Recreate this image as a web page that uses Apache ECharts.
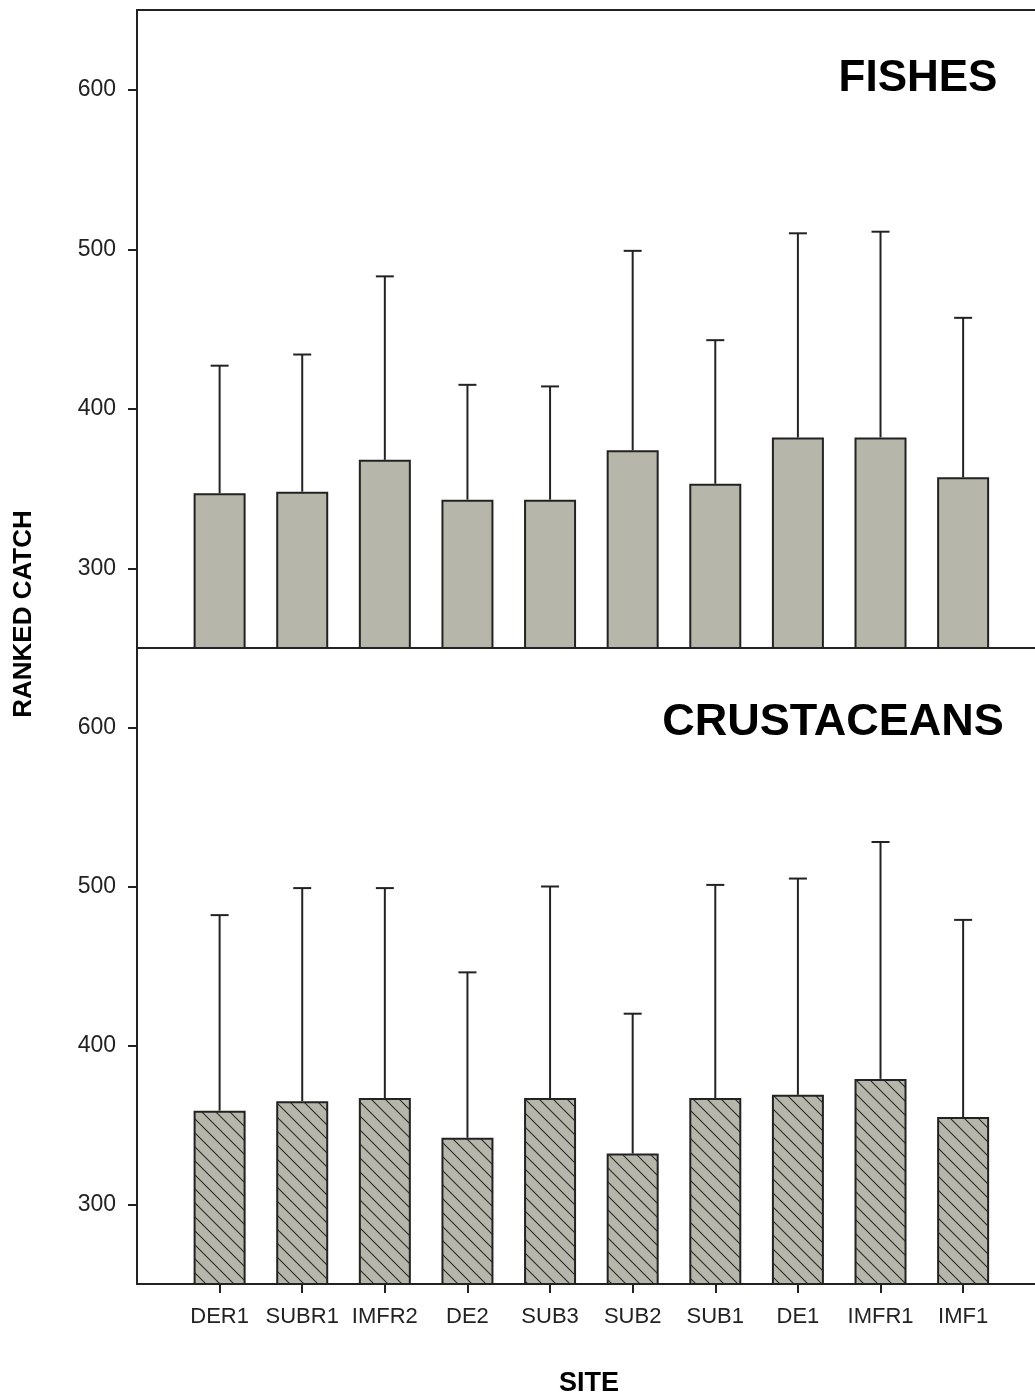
<!DOCTYPE html>
<html>
<head>
<meta charset="utf-8">
<script src="https://cdn.jsdelivr.net/npm/echarts@6/dist/echarts.min.js"></script>
<style>
html,body{margin:0;padding:0;background:#fff;}
#chart{width:1035px;height:1399px;}
</style>
</head>
<body>
<div id="chart"></div>
<script>
// ---- data ----
const sites = ['DER1', 'SUBR1', 'IMFR2', 'DE2', 'SUB3', 'SUB2', 'SUB1', 'DE1', 'IMFR1', 'IMF1'];
const fishesMean = [347, 348, 368, 343, 343, 374, 353, 382, 382, 357];
const fishesUpper = [427, 434, 483, 415, 414, 499, 443, 510, 511, 457];
const crustMean = [359, 365, 367, 342, 367, 332, 367, 369, 379, 355];
const crustUpper = [482, 499, 499, 446, 500, 420, 501, 505, 528, 479];
const yTicks = [300, 400, 500, 600];
const panelTitles = ['FISHES', 'CRUSTACEANS'];
const yTitle = 'RANKED CATCH';
const xTitle = 'SITE';

// ---- styling ----
const FONT = '"Liberation Sans", Arial, sans-serif';
const INK = '#222';
const FILL = '#b6b6aa';
const siteIdx = sites.map((_, i) => i);
const X_MIN = -1, X_MAX = 9.87; // plot is cut off at the right edge of the picture

function makeHatch() {
  const c = document.createElement('canvas');
  c.width = 14; c.height = 14;
  const g = c.getContext('2d');
  g.fillStyle = FILL;
  g.fillRect(0, 0, 14, 14);
  g.strokeStyle = '#2a2a2a';
  g.lineWidth = 1.1;
  g.beginPath();
  g.moveTo(-2, -2); g.lineTo(16, 16);
  g.moveTo(-2, 12); g.lineTo(2, 16);
  g.moveTo(12, -2); g.lineTo(16, 2);
  g.stroke();
  return c;
}
const hatch = makeHatch();

function xAxisFor(gi, showLabels, position) {
  return {
    gridIndex: gi, type: 'value', min: X_MIN, max: X_MAX, position: position || 'bottom',
    axisLine: { show: true, onZero: false, lineStyle: { color: INK, width: 2 } },
    axisTick: { show: showLabels, length: 9, customValues: siteIdx, lineStyle: { color: INK, width: 2 } },
    axisLabel: {
      show: showLabels, customValues: siteIdx, margin: 22,
      formatter: v => sites[Math.round(v)] || '',
      fontFamily: FONT, fontSize: 22, color: INK
    },
    splitLine: { show: false }
  };
}
function yAxisFor(gi) {
  return {
    gridIndex: gi, type: 'value', min: 250, max: 650,
    axisLine: { show: true, onZero: false, lineStyle: { color: INK, width: 2 } },
    axisTick: { show: true, length: 9, customValues: yTicks, lineStyle: { color: INK, width: 2 } },
    axisLabel: { show: true, customValues: yTicks, margin: 21, fontFamily: FONT, fontSize: 23, color: INK },
    splitLine: { show: false }
  };
}
function errorSeries(xi, yi, mean, upper) {
  return {
    type: 'custom', xAxisIndex: xi, yAxisIndex: yi, z: 5,
    data: sites.map((s, i) => [i, mean[i], upper[i]]),
    encode: { x: 0, y: [1, 2] },
    renderItem: function (params, api) {
      const p0 = api.coord([api.value(0), api.value(1)]);
      const p1 = api.coord([api.value(0), api.value(2)]);
      const st = { stroke: INK, lineWidth: 2 };
      return {
        type: 'group',
        children: [
          { type: 'line', shape: { x1: p0[0], y1: p0[1], x2: p1[0], y2: p1[1] }, style: st },
          { type: 'line', shape: { x1: p1[0] - 9, y1: p1[1], x2: p1[0] + 9, y2: p1[1] }, style: st }
        ]
      };
    }
  };
}

const chart = echarts.init(document.getElementById('chart'), null, { renderer: 'canvas' });
chart.setOption({
  animation: false,
  backgroundColor: '#fff',
  grid: [
    { left: 137, top: 10, right: 0, height: 638 },
    { left: 137, top: 648, right: 0, height: 636 }
  ],
  xAxis: [xAxisFor(0, false, 'bottom'), xAxisFor(1, true, 'bottom'), xAxisFor(0, false, 'top')],
  yAxis: [yAxisFor(0), yAxisFor(1)],
  series: [
    {
      type: 'bar', xAxisIndex: 0, yAxisIndex: 0, barWidth: 52,
      data: sites.map((s, i) => [i, fishesMean[i]]),
      itemStyle: { color: FILL, borderColor: INK, borderWidth: 2 }
    },
    errorSeries(0, 0, fishesMean, fishesUpper),
    {
      type: 'bar', xAxisIndex: 1, yAxisIndex: 1, barWidth: 52,
      data: sites.map((s, i) => [i, crustMean[i]]),
      itemStyle: { color: { image: hatch, repeat: 'repeat' }, borderColor: INK, borderWidth: 2 }
    },
    errorSeries(1, 1, crustMean, crustUpper)
  ],
  graphic: [
    { type: 'text', x: 918, y: 79, z: 10, style: { text: panelTitles[0], font: 'bold 44px ' + FONT, fill: '#000', align: 'center', verticalAlign: 'middle' } },
    { type: 'text', x: 833, y: 723, z: 10, style: { text: panelTitles[1], font: 'bold 45px ' + FONT, fill: '#000', align: 'center', verticalAlign: 'middle' } },
    { type: 'text', x: 24, y: 614, rotation: Math.PI / 2, z: 10, style: { text: yTitle, font: 'bold 26px ' + FONT, fill: '#000', align: 'center', verticalAlign: 'middle' } },
    { type: 'text', x: 589, y: 1384, z: 10, style: { text: xTitle, font: 'bold 27px ' + FONT, fill: '#000', align: 'center', verticalAlign: 'middle' } }
  ]
});
</script>
</body>
</html>
